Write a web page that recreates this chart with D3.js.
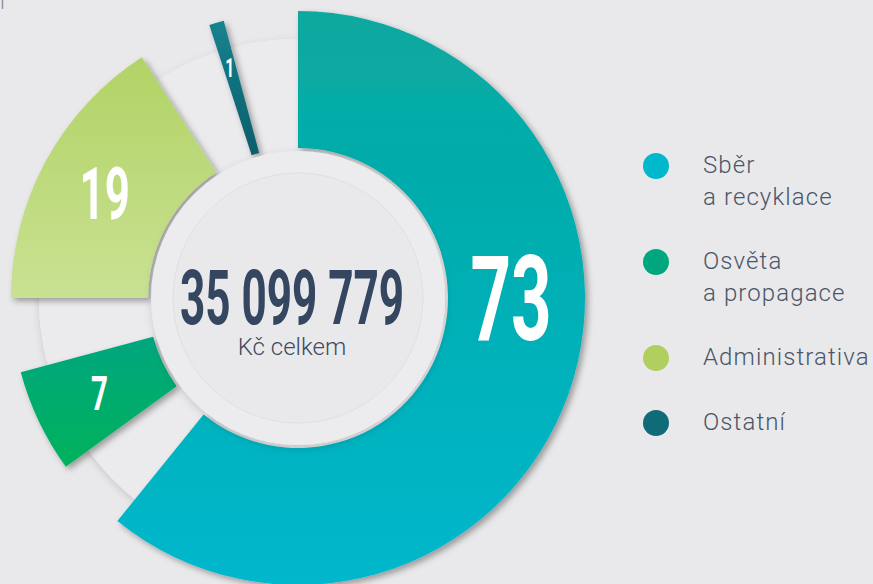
<!DOCTYPE html>
<html>
<head>
<meta charset="utf-8">
<script src="https://cdn.jsdelivr.net/npm/d3@7"></script>
<style>
  html, body { margin: 0; padding: 0; background: #e9e9eb; }
  svg { display: block; }
</style>
</head>
<body>
<script>
// data (percent of total budget)
const categories = ['Sběr a recyklace', 'Osvěta a propagace', 'Administrativa', 'Ostatní'];
const legendLines = [['Sběr', 'a recyklace'], ['Osvěta', 'a propagace'], ['Administrativa'], ['Ostatní']];
const shares = [73, 7, 19, 1];
const totalText = '35 099 779';
const totalUnit = 'Kč celkem';

// styles
const colors = ['#00b8cc', '#00a67d', '#b0cf5f', '#106b78'];
const gradTop = ['#08a89e', '#00a67e', '#b1d366', '#13838f'];
const gradBottom = ['#00b7cc', '#00b25c', '#c9e192', '#0e5d69'];

const w = 873;
const h = 584;
const cx = 298;
const cy = 298;
const innerR = 150;
const outerR = 287;
const gap = 15 * Math.PI / 180;
const condensed = 0.6;

const svg = d3.select('body').append('svg').attr('width', w).attr('height', h);
const defs = svg.append('defs');

const shadow = defs.append('filter').attr('id', 'shadow')
  .attr('x', '-20%').attr('y', '-20%').attr('width', '140%').attr('height', '140%');
shadow.append('feDropShadow').attr('dx', 3).attr('dy', 3).attr('stdDeviation', 3)
  .attr('flood-color', '#000').attr('flood-opacity', 0.35);

const soft = defs.append('filter').attr('id', 'soft')
  .attr('x', '-20%').attr('y', '-20%').attr('width', '140%').attr('height', '140%');
soft.append('feDropShadow').attr('dx', 1).attr('dy', 3).attr('stdDeviation', 4)
  .attr('flood-color', '#000').attr('flood-opacity', 0.16);

shares.forEach((s, i) => {
  const g = defs.append('linearGradient').attr('id', 'grad' + i)
    .attr('x1', 0).attr('y1', 0).attr('x2', 0).attr('y2', 1);
  g.append('stop').attr('offset', '0%').attr('stop-color', gradTop[i]);
  g.append('stop').attr('offset', '100%').attr('stop-color', gradBottom[i]);
});

// tiny mark top left
svg.append('line').attr('x1', 2.5).attr('x2', 2.5).attr('y1', 0).attr('y2', 9)
  .attr('stroke', '#8c95a8').attr('stroke-width', 1.5);

const chart = svg.append('g').attr('transform', `translate(${cx},${cy})`);

// background track
chart.append('circle').attr('r', 259).attr('fill', '#ebebed').attr('filter', 'url(#soft)');
chart.append('circle').attr('r', 259).attr('fill', '#ebebed');

// slices
const pie = d3.pie().sort(null).value((d) => d)
  .padAngle(gap)
  .startAngle(-gap / 2)
  .endAngle(2 * Math.PI - gap / 2);

const arcs = pie(shares);

// radial gaps: trim each slice by half the pad, no parallel padding
const arc = d3.arc()
  .innerRadius(innerR)
  .outerRadius(outerR)
  .padAngle(0)
  .startAngle((d) => d.startAngle + d.padAngle / 2)
  .endAngle((d) => d.endAngle - d.padAngle / 2);

chart.selectAll('path.slice')
  .data(arcs)
  .enter()
  .append('path')
  .attr('class', 'slice')
  .attr('d', arc)
  .attr('fill', (d, i) => `url(#grad${i})`)
  .attr('filter', 'url(#shadow)');

// centre disc
chart.append('circle').attr('r', 147).attr('fill', '#ececee').attr('filter', 'url(#soft)');
chart.append('circle').attr('r', 125).attr('fill', '#e9e9ec')
  .attr('stroke', '#e0e0e4').attr('stroke-width', 1);

// slice labels
const labelSize = [118, 49, 73, 26];
const labelArc = d3.arc().innerRadius(220).outerRadius(220);
const labelPos = (d, i) => {
  if (i === 0) return [213, 0];
  const c = labelArc.centroid({ startAngle: d.startAngle, endAngle: d.endAngle });
  if (i === 3) return [c[0] * 240 / 220, c[1] * 240 / 220];
  return c;
};

chart.selectAll('text.val')
  .data(arcs)
  .enter()
  .append('text')
  .attr('class', 'val')
  .attr('transform', (d, i) => {
    const p = labelPos(d, i);
    return `translate(${p[0]},${p[1]}) scale(${condensed},1)`;
  })
  .attr('text-anchor', 'middle')
  .attr('dy', '0.355em')
  .attr('font-family', 'Roboto, sans-serif')
  .attr('font-weight', 700)
  .attr('font-size', (d, i) => labelSize[i])
  .attr('fill', '#fff')
  .text((d) => d.data);

// centre texts
chart.append('text')
  .attr('transform', 'translate(-6,26) scale(0.58,1)')
  .attr('text-anchor', 'middle')
  .attr('font-family', 'Roboto, sans-serif')
  .attr('font-weight', 700)
  .attr('font-size', 76)
  .attr('fill', '#344660')
  .text(totalText);

chart.append('text')
  .attr('x', -6)
  .attr('y', 57)
  .attr('text-anchor', 'middle')
  .attr('font-family', 'Roboto, sans-serif')
  .attr('font-weight', 300)
  .attr('font-size', 24)
  .attr('fill', '#3f4b5e')
  .text(totalUnit);

// legend
const legend = svg.append('g').attr('id', 'legend');
let baseline = 173;
legendLines.forEach((lines, i) => {
  const item = legend.append('g');
  item.append('circle')
    .attr('cx', 656)
    .attr('cy', baseline - 7)
    .attr('r', 13)
    .attr('fill', colors[i]);
  item.append('text')
    .attr('x', 703)
    .attr('y', baseline)
    .attr('font-family', 'Roboto, sans-serif')
    .attr('font-weight', 300)
    .attr('font-size', 24)
    .attr('letter-spacing', 1.1)
    .attr('fill', '#4a5668')
    .selectAll('tspan')
    .data(lines)
    .enter()
    .append('tspan')
    .attr('x', 703)
    .attr('dy', (d, j) => (j === 0 ? 0 : 32))
    .text((d) => d);
  baseline += 65 + 31 * (lines.length - 1);
});
</script>
</body>
</html>
